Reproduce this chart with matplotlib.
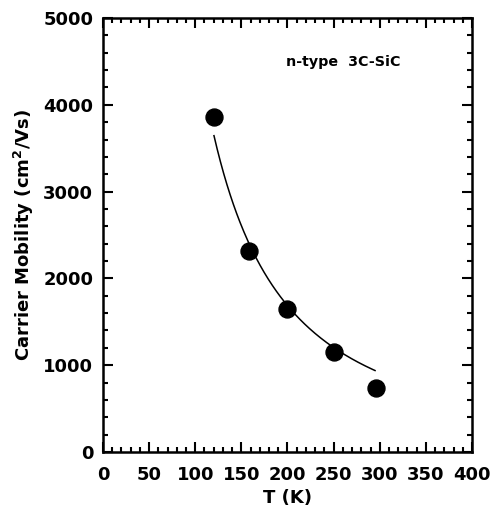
import matplotlib
matplotlib.use("Agg")
import numpy as np
import matplotlib.pyplot as plt
from matplotlib.ticker import MultipleLocator

# Measured Hall mobility of n-type 3C-SiC
temperature_K = [120, 158, 200, 250, 296]
mobility = [3860, 2320, 1650, 1150, 740]

# Trend curve samples
fit_T = [120.3, 126.8, 134.1, 141.2, 148.5, 158.6, 166.6, 181.0, 195.4,
         213.6, 231.7, 249.6, 267.8, 294.9]
fit_mu = [3683, 3364, 3056, 2826, 2635, 2404, 2250, 1982, 1732,
          1540, 1348, 1195, 1080, 945]

x_ticks = [0, 50, 100, 150, 200, 250, 300, 350, 400]
y_ticks = [0, 1000, 2000, 3000, 4000, 5000]

plt.rcParams["font.family"] = ["DejaVu Sans"]
plt.rcParams["font.weight"] = "bold"
plt.rcParams["mathtext.default"] = "bf"

fig = plt.figure(figsize=(4.95, 5.12), dpi=100)
ax = fig.add_axes([0.2081, 0.1172, 0.7454, 0.8476])

# smooth the sampled curve in log-log space
coef = np.polyfit(np.log(fit_T), np.log(fit_mu), 2)
tt = np.linspace(fit_T[0], fit_T[-1], 200)
ax.plot(tt, np.exp(np.polyval(coef, np.log(tt))), color="black", lw=1.1, zorder=2)
ax.plot(temperature_K, mobility, "o", color="black", ms=12.2, zorder=3)

ax.set_xlim(0, 400)
ax.set_ylim(0, 5000)
ax.set_xticks(x_ticks)
ax.set_yticks(y_ticks)
ax.xaxis.set_minor_locator(MultipleLocator(10))
ax.yaxis.set_minor_locator(MultipleLocator(200))

ax.tick_params(which="both", direction="in", top=True, right=True,
               width=1.5, labelsize=13)
ax.tick_params(which="major", length=7)
ax.tick_params(which="minor", length=3.5)
ax.tick_params(axis="x", which="major", pad=10)
ax.tick_params(axis="y", which="major", pad=7)
for lbl in ax.get_xticklabels() + ax.get_yticklabels():
    lbl.set_fontweight("bold")

for s in ax.spines.values():
    s.set_linewidth(1.8)

ax.set_xlabel("T (K)", fontsize=13, fontweight="bold", labelpad=4)
ax.set_ylabel("Carrier Mobility (cm$^\\mathbf{2}$/Vs)", fontsize=13,
              fontweight="bold", labelpad=5)

ax.text(0.497, 0.898, "n-type  3C-SiC", transform=ax.transAxes,
        fontsize=10.3, fontweight="bold", ha="left", va="center")

fig.savefig("out.png", dpi=100)
